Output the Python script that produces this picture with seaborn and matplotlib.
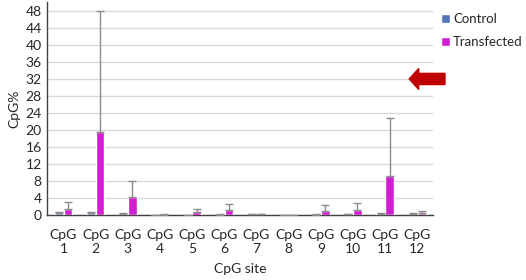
import matplotlib
matplotlib.use("Agg")
import matplotlib.pyplot as plt
import seaborn as sns
import pandas as pd
import numpy as np

sites = ["CpG\n1", "CpG\n2", "CpG\n3", "CpG\n4", "CpG\n5", "CpG\n6",
         "CpG\n7", "CpG\n8", "CpG\n9", "CpG\n10", "CpG\n11", "CpG\n12"]
control = [0.5, 0.5, 0.35, 0.05, 0.05, 0.1, 0.15, 0.05, 0.1, 0.15, 0.3, 0.25]
control_err = [0.15, 0.2, 0.15, 0.02, 0.02, 0.05, 0.05, 0.02, 0.05, 0.05, 0.1, 0.15]
transfected = [1.5, 19.4, 4.2, 0.1, 0.65, 1.2, 0.25, 0.05, 1.0, 1.25, 9.2, 0.5]
transfected_err = [1.5, 28.6, 3.8, 0.05, 0.75, 1.35, 0.1, 0.02, 1.3, 1.5, 13.6, 0.35]
groups = ["Control", "Transfected"]
colors = ["#4472C4", "#EE00EE"]

sns.set_theme(style="white")
plt.rcParams["font.family"] = ["Lato", "DejaVu Sans"]

df = pd.DataFrame({
    "site": sites * 2,
    "value": control + transfected,
    "err": control_err + transfected_err,
    "group": [groups[0]] * len(sites) + [groups[1]] * len(sites),
})

fig = plt.figure(figsize=(5.26, 2.80), dpi=100)
ax = fig.add_axes([0.090, 0.232, 0.734, 0.76])

sns.barplot(data=df, x="site", y="value", hue="group", palette=colors,
            errorbar=None, width=0.56, gap=0.06, ax=ax, zorder=3)

# upper error bars positioned on the drawn bars
for cont, grp in zip(ax.containers, groups):
    errs = df.loc[df["group"] == grp, "err"].to_numpy()
    xs = [p.get_x() + p.get_width() / 2 for p in cont.patches]
    hs = [p.get_height() for p in cont.patches]
    ax.errorbar(xs, hs, yerr=[np.zeros_like(errs), errs], fmt="none",
                ecolor="#8C8C8C", elinewidth=1.0, capsize=3, capthick=1.0, zorder=4)

ax.set_ylim(0, 50)
ax.set_yticks(range(0, 49, 4))
ax.set_xlim(-0.5, len(sites) - 0.5)
ax.yaxis.grid(True, color="#D9D9D9", linewidth=1.0, zorder=0)
ax.set_axisbelow(True)
for s in ["top", "right"]:
    ax.spines[s].set_visible(False)
ax.spines["left"].set_color("#404040")
ax.spines["bottom"].set_color("#404040")
ax.spines["left"].set_linewidth(1.0)
ax.spines["bottom"].set_linewidth(1.0)
ax.tick_params(axis="both", length=0, labelsize=10, colors="#262626", pad=4)
ax.tick_params(axis="x", pad=10)
ax.set_xlabel("CpG site", fontsize=10, color="#262626", labelpad=6)
ax.set_ylabel("CpG%", fontsize=10, color="#262626", labelpad=4)

leg = ax.legend(loc="upper left", bbox_to_anchor=(1.02, 0.95), frameon=False,
                fontsize=9.5, handlelength=0.65, handleheight=0.65,
                handletextpad=0.25, labelspacing=0.85, borderpad=0,
                borderaxespad=0)
for t in leg.get_texts():
    t.set_color("#262626")

# red arrow annotation
fig.patches.append(matplotlib.patches.FancyArrow(
    0.846, 0.718, -0.068, 0, width=0.04, head_width=0.075, head_length=0.018,
    length_includes_head=True, transform=fig.transFigure, color="#C00000", figure=fig))

fig.savefig("out.png", dpi=100)
